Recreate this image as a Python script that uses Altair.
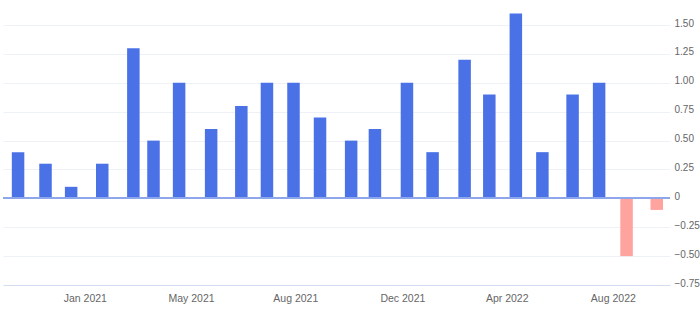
import altair as alt
import pandas as pd

# Bar dates and values
dates = [
    "2020-10-29", "2020-11-28", "2020-12-26", "2021-01-29", "2021-03-04",
    "2021-03-26", "2021-04-23", "2021-05-28", "2021-06-30", "2021-07-28",
    "2021-08-26", "2021-09-24", "2021-10-28", "2021-11-23", "2021-12-28",
    "2022-01-25", "2022-03-01", "2022-03-28", "2022-04-26", "2022-05-25",
    "2022-06-27", "2022-07-26", "2022-08-25", "2022-09-27",
]
values = [
    0.4, 0.3, 0.1, 0.3, 1.3,
    0.5, 1.0, 0.6, 0.8, 1.0,
    1.0, 0.7, 0.5, 0.6, 1.0,
    0.4, 1.2, 0.9, 1.6, 0.4,
    0.9, 1.0, -0.5, -0.1,
]

# x-axis tick positions (dates) and their labels
tick_dates = [(2021, 1, 10), (2021, 5, 6), (2021, 8, 28),
              (2021, 12, 23), (2022, 4, 16), (2022, 8, 10)]
tick_labels = ["Jan 2021", "May 2021", "Aug 2021", "Dec 2021", "Apr 2022", "Aug 2022"]
y_ticks = [-0.75, -0.5, -0.25, 0, 0.25, 0.5, 0.75, 1.0, 1.25, 1.5]

df = pd.DataFrame({"date": dates, "value": values})

FONT = "Liberation Sans"

x_dt = [alt.DateTime(year=y, month=m, date=d, utc=True) for (y, m, d) in tick_dates]
label_map = "{" + ",".join(
    f"'{y}-{m}-{d}':'{lab}'" for (y, m, d), lab in zip(tick_dates, tick_labels)
) + "}"

x_enc = alt.X(
    "date:T",
    scale=alt.Scale(
        type="utc",
        domain=[alt.DateTime(year=2020, month=10, date=18, utc=True),
                alt.DateTime(year=2022, month=10, date=6, utc=True)],
    ),
    axis=alt.Axis(
        title=None,
        values=x_dt,
        tickCount=20,
        labelExpr=f"{label_map}[utcyear(datum.value)+'-'+(utcmonth(datum.value)+1)+'-'+utcdate(datum.value)]",
        ticks=False,
        grid=False,
        domainColor="#d5dcef",
        domainWidth=1,
        labelColor="#666666",
        labelFont=FONT,
        labelFontSize=10.5,
        labelPadding=8,
        labelOverlap=False,
    ),
)

y_enc = alt.Y(
    "value:Q",
    scale=alt.Scale(domain=[-0.75, 1.70], nice=False, zero=False),
    axis=alt.Axis(
        title=None,
        orient="right",
        values=y_ticks,
        tickCount=20,
        labelExpr="datum.value == 0 ? '0' : format(datum.value, '.2f')",
        ticks=False,
        domain=False,
        grid=True,
        gridColor="#eef1f6",
        labelColor="#666666",
        labelFont=FONT,
        labelFontSize=10,
        labelPadding=4,
        labelOffset=-2,
        labelOverlap=False,
        labelBound=False,
        labelFlush=False,
    ),
)

bars = alt.Chart(df).mark_bar(size=12.5).encode(
    x=x_enc,
    y=y_enc,
    color=alt.condition(alt.datum.value < 0, alt.value("#ffa39e"), alt.value("#4a72e6")),
)

zero = alt.Chart(df).mark_rule(color="#8ea6ec", strokeWidth=1.5).encode(
    y=alt.datum(0)
)

chart = alt.layer(bars, zero).properties(
    width=667,
    height=283,
    autosize=alt.AutoSizeParams(type="none"),
    padding={"left": 3, "top": 2, "right": 30, "bottom": 30},
).configure_view(stroke=None)

chart.save("out.html", embed_options={"renderer": "svg", "actions": False})
